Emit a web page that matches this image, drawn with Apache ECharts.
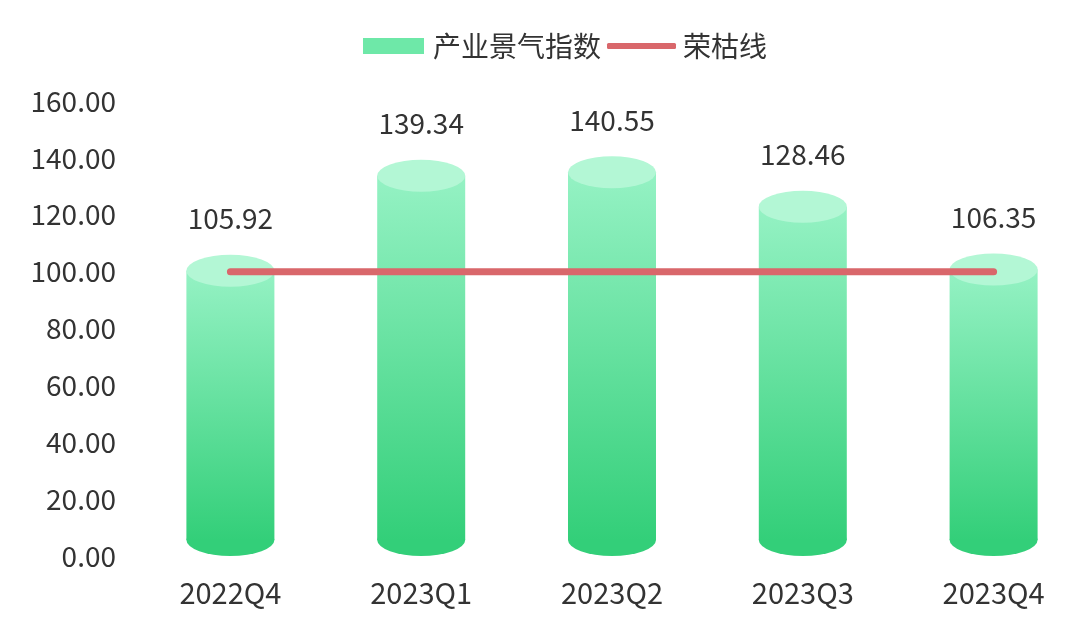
<!DOCTYPE html>
<html>
<head>
<meta charset="utf-8">
<script src="https://cdn.jsdelivr.net/npm/echarts@6/dist/echarts.min.js"></script>
<style>
html,body{margin:0;padding:0;background:#fff;overflow:hidden;width:1080px;height:636px;}
#chart{width:1100px;height:636px;}
</style>
</head>
<body>
<div id="chart"></div>
<script>
const categories = ['2022Q4', '2023Q1', '2023Q2', '2023Q3', '2023Q4'];
const indexValues = [105.92, 139.34, 140.55, 128.46, 106.35];
const thresholdValues = [100, 100, 100, 100, 100];
const seriesNames = ['产业景气指数', '荣枯线'];
const yTicks = { min: 0, max: 160, interval: 20 };

const FONT = '"Noto Sans CJK SC", "Noto Sans", sans-serif';
const chart = echarts.init(document.getElementById('chart'));

const BAR_W = 88;
const RY = 16;

function renderCylinder(params, api) {
  const idx = api.value(0);
  const val = api.value(1);
  const top = api.coord([idx, val]);
  const base = api.coord([idx, 0]);
  const cx = top[0];
  const half = BAR_W / 2;
  const topC = top[1] + RY;
  const botC = base[1] - RY;
  const bodyGrad = new echarts.graphic.LinearGradient(0, 0, 0, 1, [
    { offset: 0, color: '#95f2c4' },
    { offset: 1, color: '#33cf79' }
  ]);
  return {
    type: 'group',
    children: [
      {
        type: 'circle',
        shape: { cx: 0, cy: 0, r: half },
        x: cx, y: botC, scaleY: RY / half,
        style: { fill: '#33cf79' }
      },
      {
        type: 'rect',
        shape: { x: cx - half, y: topC, width: BAR_W, height: botC - topC },
        style: { fill: bodyGrad }
      },
      {
        type: 'circle',
        shape: { cx: 0, cy: 0, r: half },
        x: cx, y: topC, scaleY: RY / half,
        style: { fill: '#b3f7d5' }
      },
      {
        type: 'text',
        style: {
          text: val.toFixed(2),
          x: cx, y: top[1] - 36,
          align: 'center', verticalAlign: 'middle',
          fontSize: 28, fill: '#333', fontFamily: FONT
        }
      }
    ]
  };
}

chart.setOption({
  backgroundColor: '#fff',
  animation: false,
  legend: [
    {
      left: 358, top: 27,
      itemWidth: 61, itemHeight: 16,
      textStyle: { fontSize: 28, color: '#333', fontFamily: FONT, padding: [0, 0, 0, 4] },
      data: [{ name: seriesNames[0], icon: 'rect' }]
    },
    {
      left: 602, top: 27, height: 30,
      itemWidth: 69, itemHeight: 6,
      textStyle: { fontSize: 28, color: '#333', fontFamily: FONT, padding: [0, 0, 0, 2] },
      data: [{ name: seriesNames[1], icon: 'roundRect' }]
    }
  ],
  grid: { left: 135, top: 101, width: 954, height: 455 },
  xAxis: {
    type: 'category',
    data: categories,
    axisLine: { show: false },
    axisTick: { show: false },
    axisLabel: { fontSize: 29, color: '#333', margin: 22, fontFamily: FONT }
  },
  yAxis: {
    type: 'value',
    min: yTicks.min, max: yTicks.max, interval: yTicks.interval,
    axisLine: { show: false },
    axisTick: { show: false },
    splitLine: { show: false },
    axisLabel: {
      fontSize: 28, color: '#333', margin: 19, fontFamily: FONT,
      formatter: v => v.toFixed(2)
    }
  },
  series: [
    {
      name: seriesNames[0],
      type: 'custom',
      renderItem: renderCylinder,
      itemStyle: { color: '#6ee8a8' },
      data: indexValues.map((v, i) => [i, v]),
      z: 2
    },
    {
      name: seriesNames[1],
      type: 'line',
      data: thresholdValues,
      symbol: 'none',
      showSymbol: false,
      lineStyle: { color: '#d9676b', width: 7, cap: 'round' },
      itemStyle: { color: '#d9676b' },
      z: 5
    }
  ]
});
</script>
</body>
</html>
